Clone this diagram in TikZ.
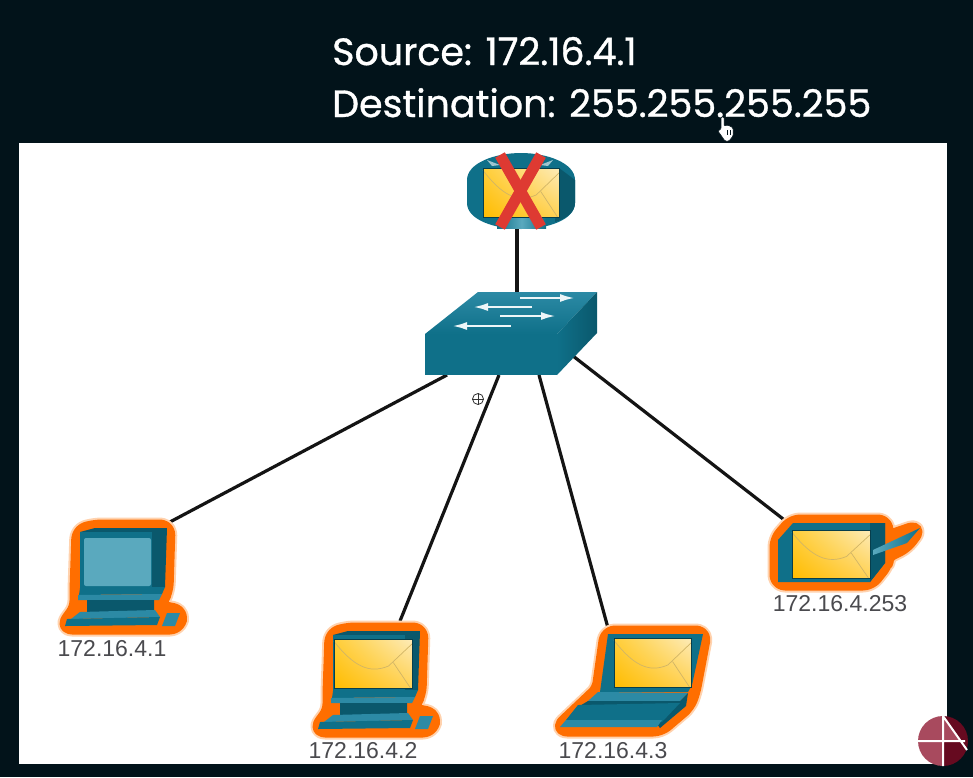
\documentclass[tikz,border=0pt]{standalone}
\usepackage{fontspec}
\usetikzlibrary{arrows.meta,shadings}
\setmainfont{Liberation Sans}
\newfontfamily\titlefont[FakeBold=0.9]{Poppins}
\definecolor{bgdark}{HTML}{02131A}
\definecolor{tealmain}{HTML}{0F7089}
\definecolor{tealdark}{HTML}{0A586C}
\definecolor{teallight}{HTML}{2C8AA5}
\definecolor{screenblue}{HTML}{5AA9BE}
\definecolor{halo}{HTML}{FF6E00}
\definecolor{halosoft}{HTML}{FFD2AE}
\definecolor{envA}{HTML}{FFBC00}
\definecolor{envB}{HTML}{FDEBB8}
\definecolor{envC}{HTML}{FFCE3A}
\definecolor{envD}{HTML}{FFD255}
\definecolor{crossred}{HTML}{DE3A32}
\definecolor{labelgray}{HTML}{4A4A4E}
\definecolor{logorose}{HTML}{A84A5E}
\definecolor{logowine}{HTML}{660A20}
\tikzset{
  x=1pt,y=-1pt,
  link/.style={line width=3.2pt,draw=black!92},
  titletext/.style={text=white,anchor=base west,inner sep=0pt,font=\titlefont\fontsize{38}{38}\selectfont},
  hostlabel/.style={text=labelgray,inner sep=0pt,font=\fontsize{23}{23}\selectfont},
  halosoftline/.style={draw=halosoft,fill=halosoft,line width=21pt,line join=round,rounded corners=7pt},
  haloline/.style={draw=halo,fill=halo,line width=17pt,line join=round,rounded corners=7pt},
  teal/.style={fill=tealmain},
  tealdk/.style={fill=tealdark},
  teallt/.style={fill=teallight},
  envedge/.style={draw=tealdark!70!black,line width=.8pt},
  envfold/.style={draw=envA!70!black!60!white,line width=.7pt},
  swarrow/.style={white!92!teallight,line width=2.4pt,-{Latex[length=15pt,width=8pt]}},
}
% envelope: x0 y0 w h
\newcommand{\mailicon}[4]{%
  \begin{scope}[shift={(#1,#2)}]
    \shade[upper left=envC,upper right=envB,lower left=envA,lower right=envD] (0,0) rectangle (#3,#4);
    \draw[envfold] (0,.05*#4) .. controls (.25*#3,.55*#4) and (.45*#3,.72*#4) .. (.7*#3,.55*#4) -- (#3,.1*#4);
    \draw[envfold] (.76*#3,.48*#4) -- (.98*#3,#4);
    \draw[envedge] (0,0) rectangle (#3,#4);
  \end{scope}}
% desktop computer, origin = upper left of monitor
\newcommand{\deskoutline}{(0,4) -- (15,0) -- (87,0) -- (85,62) -- (80,72) -- (76,80) -- (100,85) -- (97,98) -- (-15,98) -- (-2,80) -- (-2,62) -- cycle}
\newcommand{\deskbody}{%
  \fill[tealdk] (0,4) -- (15,0) -- (87,0) -- (85,59) -- (0,60) -- cycle;
  \fill[teal] (0,4) -- (72,4) -- (72,60) -- (0,60) -- cycle;
  \fill[teal] (0,60) -- (85,59) -- (82,66) -- (-1,67) -- cycle;
  \fill[teallt] (-2,67) -- (82,66) -- (79,72) -- (-2,72) -- cycle;
  \fill[tealdk] (7,72) -- (74,72) -- (74,83) -- (7,85) -- cycle;
  \fill[teallt] (0,84) -- (75,82) -- (80,89) -- (-9,91) -- cycle;
  \fill[teal] (-13,91) -- (80,89) -- (77,97) -- (-15,98) -- cycle;
  \fill[teallt] (87,85) -- (100,85) -- (95,98) -- (82,98) -- cycle;
}
\begin{document}
\begin{tikzpicture}
\useasboundingbox (0,0) rectangle (973,777);
\fill[bgdark] (0,0) rectangle (973,777);
\fill[white] (19,143) rectangle (947,764);

% title
\node[titletext] (srcline) at (332,65) {Source: 172.16.4.1};
\node[titletext] (dstline) at (332,117) {Destination: 255.255.255.255};

% connection ports
\coordinate (routerport) at (517,228);
\coordinate (swtop) at (517,294);
\coordinate (swA) at (447,375);
\coordinate (swB) at (499,375);
\coordinate (swC) at (539,375);
\coordinate (swD) at (573,356);
\coordinate (pcA) at (168,523);
\coordinate (pcB) at (400,621);
\coordinate (pcC) at (608,628);
\coordinate (pcD) at (787,522);
\draw[link] (routerport) -- (swtop);
\draw[link] (swA) -- (pcA);
\draw[link] (swB) -- (pcB);
\draw[link] (swC) -- (pcC);
\draw[link] (swD) -- (pcD);

% router
\fill[tealmain] (467,180) .. controls (467,163) and (495,153) .. (521,153) .. controls (547,153) and (575,163) .. (575,180) -- (575,203) .. controls (575,220) and (547,229) .. (521,229) .. controls (495,229) and (467,220) .. (467,203) -- cycle;
\fill[tealdark] (559,168) -- (575,180) -- (575,203) .. controls (575,212) and (566,219) .. (555,222) -- cycle;
\shade[left color=tealmain,right color=tealmain,middle color=screenblue] (497,217) rectangle (546,228);
\fill[white,opacity=.6] (487,160) -- (500,165) -- (492,166) -- cycle;
\fill[white,opacity=.6] (553,160) -- (540,165) -- (548,166) -- cycle;
\mailicon{483}{168}{76}{49}
\draw[crossred,line width=11pt] (500,155) -- (541,227);
\draw[crossred,line width=11pt] (541,155) -- (500,227);

% switch
\shade[top color=teallight,bottom color=tealmain] (425,334) -- (478,292) -- (597,292) -- (557,334) -- cycle;
\shade[left color=tealmain,right color=tealdark] (557,334) -- (597,292) -- (597,333) -- (557,375) -- cycle;
\fill[tealmain] (425,334) rectangle (557,375);
\draw[swarrow] (520,298) -- (575,298);
\draw[swarrow] (532,307) -- (473,307);
\draw[swarrow] (500,316) -- (556,316);
\draw[swarrow] (511,326) -- (452,326);

% host 1
\begin{scope}[shift={(80,528)}]
  \draw[halosoftline] \deskoutline;
  \draw[haloline] \deskoutline;
  \deskbody
  \fill[screenblue,rounded corners=2pt] (4,10) rectangle (71,58);
\end{scope}
\node[hostlabel] (labA) at (112,649) {172.16.4.1};

% host 2
\begin{scope}[shift={(333,631)}]
  \draw[halosoftline] \deskoutline;
  \draw[haloline] \deskoutline;
  \deskbody
\end{scope}
\mailicon{334}{639}{78}{49}
\node[hostlabel] (labB) at (363,751) {172.16.4.2};

% host 3 laptop
\newcommand{\lapoutline}{(608,634) -- (703,634) -- (692,692) -- (687,705) -- (660,728) -- (560,728) -- (598,692) -- (600,690) -- cycle}
\draw[halosoftline] \lapoutline;
\draw[haloline] \lapoutline;
\fill[tealmain] (608,634) -- (703,634) -- (692,685) -- (688,692) -- (600,692) -- cycle;
\fill[teallight] (598,692) -- (688,693) -- (680,701) -- (588,701) -- cycle;
\fill[tealdark] (588,701) -- (680,701) -- (688,693) -- (686,706) -- (660,728) -- (657,724) -- (578,707) -- cycle;
\fill[tealmain] (578,705) -- (680,703) -- (662,722) -- (566,720) -- cycle;
\fill[teallight] (566,720) -- (662,720) -- (657,727) -- (560,727) -- cycle;
\mailicon{614}{638}{77}{49}
\node[hostlabel] (labC) at (613,751) {172.16.4.3};

% host 4 tablet
\newcommand{\taboutline}{(793,523) -- (885,523) -- (885,540) -- (917,529) -- (905,545) -- (885,555) -- (885,563) -- (870,582) -- (778,582) -- (778,540) -- cycle}
\draw[halosoftline] \taboutline;
\draw[haloline] \taboutline;
\fill[tealmain] (793,523) -- (885,523) -- (885,563) -- (870,582) -- (778,582) -- (778,540) -- cycle;
\fill[tealdark] (870,523) -- (885,523) -- (885,563) -- (870,582) -- cycle;
\shade[left color=screenblue,right color=tealmain] (873,550) -- (920,528) -- (907,543) -- (873,555) -- cycle;
\mailicon{792}{530}{78}{48}
\node[hostlabel] (labD) at (840,604) {172.16.4.253};

% pointer marks
\node[draw=black!80,circle,line width=.8pt,minimum size=11pt,inner sep=0pt] (crosshair) at (478,399) {};
\draw[black!80,line width=.8pt] (crosshair.north) -- (crosshair.south) (crosshair.west) -- (crosshair.east);
\draw[fill=white,draw=bgdark,line width=.5pt,rounded corners=1pt] (721,129) -- (721,117) -- (724,117) -- (724,126) -- (727,125) -- (730,126) -- (733,128) -- (733,136) -- (729,141) -- (725,141) -- (718,131) -- cycle;
\draw[bgdark,line width=.5pt] (727,130) -- (727,135) (730,130) -- (730,135);

% logo
\begin{scope}
  \clip (943,741) circle (25);
  \fill[logorose] (918,716) rectangle (943,766);
  \fill[logowine] (943,716) rectangle (968,766);
  \fill[logorose] (943,716) -- (961,741) -- (943,741) -- cycle;
\end{scope}
\draw[white,line width=2pt] (943,716) -- (943,766) (918,741) -- (965,741) (943,716) -- (967,750);
\end{tikzpicture}
\end{document}
